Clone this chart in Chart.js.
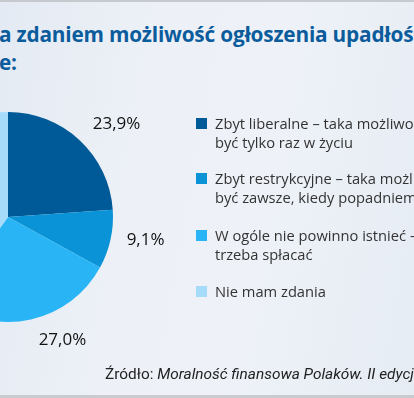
<!DOCTYPE html>
<html><head><meta charset="utf-8">
<script src="https://cdn.jsdelivr.net/npm/chart.js@4/dist/chart.umd.min.js"></script>
<style>
html,body{margin:0;padding:0;}
body{width:414px;height:398px;overflow:hidden;position:relative;
background:linear-gradient(100deg,#e4eaf3 0%,#edf1f7 35%,#eef2f8 60%,#e6ecf4 100%);
font-family:"Open Sans",sans-serif;}
#topline{position:absolute;left:0;top:0;width:414px;height:2px;background:#c6c9cd;}
#botline{position:absolute;left:0;top:395px;width:414px;height:3px;background:#c9cbce;}
.title{position:absolute;white-space:nowrap;color:#0b5c9c;font-weight:700;font-size:20.8px;font-family:"Open Sans",sans-serif;letter-spacing:-0.2px;}
#wrap{position:absolute;left:-197px;top:62px;width:410px;height:310px;}
#legend{position:absolute;left:196px;top:0;width:300px;}
.item{position:absolute;left:0;white-space:nowrap;}
.sw{position:absolute;left:0;width:11px;height:11px;}
.txt{position:absolute;left:19px;font-family:"Open Sans",sans-serif;font-size:14.7px;line-height:19px;color:#333;}
#source{position:absolute;left:105px;top:365px;white-space:nowrap;font-family:Roboto,sans-serif;font-size:15.4px;color:#222;}
#source i{font-style:italic;}
</style></head><body>
<div id="topline"></div>
<div class="title" style="left:-1px;top:20px;">a zdaniem możliwość ogłoszenia upadłości</div>
<div class="title" style="left:-1px;top:48px;">e:</div>
<div id="wrap"><canvas id="c"></canvas></div>
<div id="legend"></div>
<div id="source">Źródło: <i>Moralność finansowa Polaków. II edycja</i></div>
<div id="botline"></div>
<script>
const categories = [
  ["Zbyt liberalne – taka możliwość powinna", "być tylko raz w życiu"],
  ["Zbyt restrykcyjne – taka możliwość powinna", "być zawsze, kiedy popadniemy w długi"],
  ["W ogóle nie powinno istnieć – długi", "trzeba spłacać"],
  ["Nie mam zdania"]
];
const values = [23.9, 9.1, 27.0, 40.0];
const valueLabels = ["23,9%", "9,1%", "27,0%", "40,0%"];
const colors = ["#005a98", "#0a93d7", "#29b5f5", "#a6dbf9"];

// legend (HTML)
const legendTops = [118, 173, 230, 286];
const leg = document.getElementById('legend');
categories.forEach((lines, i) => {
  const it = document.createElement('div');
  it.className = 'item';
  it.style.top = legendTops[i] + 'px';
  const sw = document.createElement('div');
  sw.className = 'sw'; sw.style.background = colors[i]; sw.style.top = '0px';
  const tx = document.createElement('div');
  tx.className = 'txt'; tx.style.top = '-4px';
  tx.innerHTML = lines.join('<br>');
  it.appendChild(sw); it.appendChild(tx);
  leg.appendChild(it);
});

const labelNudge = [[7,4],[-3,-5],[22,-7],[0,0]];
const outLabels = {
  id: 'outLabels',
  afterDatasetsDraw(chart) {
    const ctx = chart.ctx;
    const meta = chart.getDatasetMeta(0);
    ctx.save();
    ctx.font = '17px "Open Sans", sans-serif';
    ctx.fillStyle = '#111';
    ctx.textAlign = 'center';
    ctx.textBaseline = 'middle';
    meta.data.forEach((arc, i) => {
      const p = arc.getProps(['x','y','startAngle','endAngle','outerRadius'], true);
      const mid = (p.startAngle + p.endAngle) / 2;
      const cx = Math.cos(mid), cy = Math.sin(mid);
      const r = p.outerRadius + 20;
      const w = ctx.measureText(valueLabels[i]).width, h = 16;
      const x = p.x + cx * r + cx * w / 2 + labelNudge[i][0];
      const y = p.y + cy * r + cy * h / 2 + labelNudge[i][1];
      ctx.fillText(valueLabels[i], x, y);
    });
    ctx.restore();
  }
};

new Chart(document.getElementById('c'), {
  type: 'pie',
  data: { labels: categories.map(l => l.join(' ')), datasets: [{ data: values, backgroundColor: colors, borderWidth: 0 }] },
  options: {
    responsive: true, maintainAspectRatio: false, animation: false,
    layout: { padding: { left: 100, right: 100, top: 50, bottom: 50 } },
    plugins: { legend: { display: false }, tooltip: { enabled: false } }
  },
  plugins: [outLabels]
});
</script>
</body></html>
